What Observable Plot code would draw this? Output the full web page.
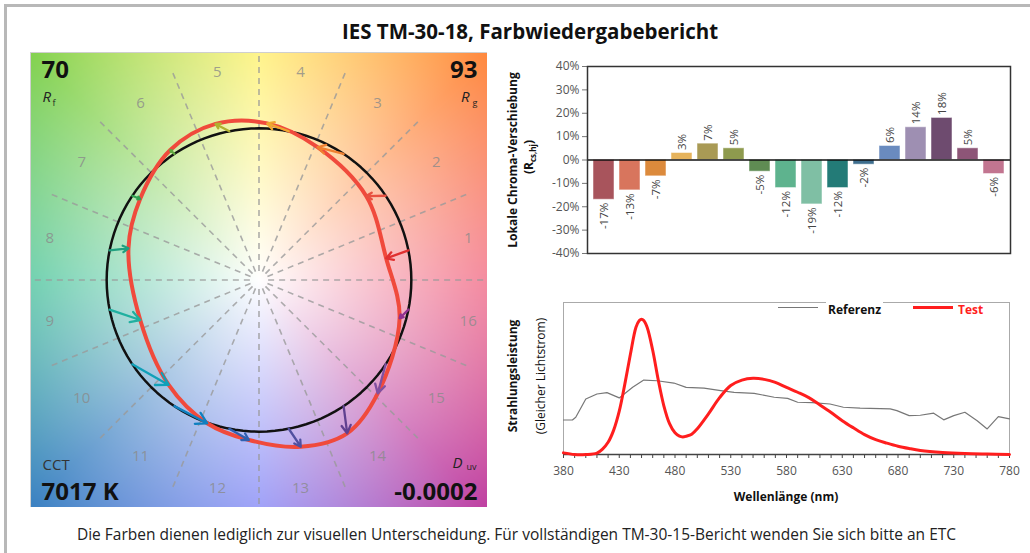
<!DOCTYPE html>
<html><head><meta charset="utf-8">
<script src="https://cdn.jsdelivr.net/npm/d3@7"></script>
<script src="https://cdn.jsdelivr.net/npm/@observablehq/plot@0.6"></script>
<style>
body{margin:0;background:#fff;font-family:"Open Sans",sans-serif;}
#wrap{position:relative;width:1030px;height:553px;overflow:hidden;background:#fff;}
.abs{position:absolute;}
#border{left:4px;top:4px;width:1100px;height:600px;border-left:3px solid #b8b8b8;border-top:3px solid #b8b8b8;}
#title{left:280px;width:500px;top:17px;text-align:center;font-weight:bold;font-size:20.5px;color:#111;}
#caption{left:0;width:1033px;top:523px;text-align:center;font-size:15.5px;color:#222;}
.vt{position:absolute;white-space:nowrap;transform:translate(-50%,-50%) rotate(-90deg);font-size:12px;color:#111;}
.b{font-weight:bold;}
.leg{position:absolute;font-size:12px;font-weight:bold;}
.legline{position:absolute;height:0;}
#left,#bars,#spec{position:absolute;}
#left{left:30px;top:52px;}
#bars{left:500px;top:55px;}
#spec{left:500px;top:290px;}
</style>
</head><body>
<div id="wrap">
  <div id="border" class="abs"></div>
  <div id="title" class="abs">IES TM-30-18, Farbwiedergabebericht</div>
  <div id="left"></div>
  <div id="bars"></div>
  <div id="spec"></div>
  <div class="vt b" style="left:512px;top:160px;">Lokale Chroma-Verschiebung</div>
  <div class="vt b" style="left:529px;top:157px;">(R<sub style="font-size:8px">cs,hj</sub>)</div>
  <div class="vt b" style="left:512px;top:376px;">Strahlungsleistung</div>
  <div class="vt" style="left:540px;top:376px;">(Gleicher Lichtstrom)</div>
  <div class="abs b" style="left:686px;width:200px;top:488px;text-align:center;font-size:12px;color:#111;">Wellenlänge (nm)</div>
  <div class="legline" style="left:778px;top:307px;width:40px;border-top:1.3px solid #777;"></div>
  <div class="leg" style="left:826px;top:301px;color:#111;background:#fff;padding:0 2px;">Referenz</div>
  <div class="legline" style="left:913px;top:306px;width:40px;border-top:3px solid #ff1e1e;"></div>
  <div class="leg" style="left:958px;top:301px;color:#ff1e1e;">Test</div>
  <div id="caption" class="abs">Die Farben dienen lediglich zur visuellen Unterscheidung. Für vollständigen TM-30-15-Bericht wenden Sie sich bitte an ETC</div>
</div>
<script>
// ---------- data ----------
const bins = [1,2,3,4,5,6,7,8,9,10,11,12,13,14,15,16];
const chromaShift = [-0.17,-0.13,-0.07,0.03,0.07,0.05,-0.05,-0.12,-0.19,-0.12,-0.02,0.06,0.14,0.18,0.05,-0.06];
// test vector graphic: relative chroma (radius) and mean hue angle (deg) per hue bin
const testChroma = [0.847,0.895,0.956,1.034,1.068,1.036,0.946,0.882,0.823,0.911,1.004,1.057,1.133,1.165,1.080,0.957];
const testHue    = [9.7,38.2,66.3,87.0,105.5,124.2,145.6,166.3,198.7,229.4,250.2,266.4,284.0,299.8,316.2,344.7];
const yTicks = [-0.4,-0.3,-0.2,-0.1,0,0.1,0.2,0.3,0.4];
const metrics = {Rf: "70", Rg: "93", CCT: "7017 K", Duv: "-0.0002"};
// spectra
const testNm  = [380,390,400,410,415,420,425,430,435,440,445,448,450,452,455,460,465,470,475,480,484,487,490,495,500,510,520,530,540,550,560,570,580,590,600,610,620,630,640,650,660,670,680,690,700,720,740,760,780];
const testSpd = [0.012,0,0,0.01,0.04,0.09,0.18,0.32,0.52,0.74,0.94,0.99,1.0,0.99,0.94,0.77,0.55,0.36,0.23,0.16,0.135,0.13,0.135,0.15,0.19,0.30,0.42,0.51,0.55,0.563,0.555,0.533,0.496,0.46,0.42,0.366,0.31,0.25,0.197,0.147,0.11,0.084,0.061,0.044,0.03,0.015,0.007,0.003,0];
const refNm  = [380,388,391,400,410,419,430,442,452,464,479,490,506,521,533,551,569,581,590,603,619,631,646,673,679,690,700,712,721,730,740,751,760,770,780];
const refSpd = [0.255,0.255,0.275,0.41,0.447,0.457,0.418,0.497,0.55,0.545,0.528,0.496,0.49,0.472,0.459,0.452,0.423,0.415,0.386,0.383,0.373,0.349,0.342,0.337,0.324,0.287,0.29,0.305,0.256,0.287,0.312,0.25,0.189,0.28,0.263];
const xTicks = [380,390,400,410,420,430,440,450,460,470,480,490,500,510,520,530,540,550,560,570,580,590,600,610,620,630,640,650,660,670,680,690,700,710,720,730,740,750,760,770,780];

// ---------- palettes ----------
const barColors = ["#a8545c","#d8755d","#dc8a3c","#e6b35c","#a99a55","#8e9a4e","#5f8c53","#5eb38e","#7fbfa4","#237b77","#3e6e8e","#6a8bbf","#9e8fb2","#6e4b6f","#8d5577","#c27590"];
const arrowColors = ["#e03030","#e85040","#f08030","#f0a830","#b0b030","#60a840","#30a050","#20a080","#20b0a0","#10a0b8","#1080c0","#3060b0","#5050a0","#604090","#8050a0","#903090"];
const wheelAngles = [0,45,90,135,180,225,270,315,360];
const wheelColors = ["#f0607c","#ff8a40","#fff060","#84d250","#3fc094","#3c82c2","#7c80f6","#c042a2","#f0607c"];

const rad = a => a * Math.PI / 180;
const center = i => rad((i + 0.5) * 22.5);
const vec = bins.map((b, i) => ({
  bin: b,
  rx: Math.cos(center(i)), ry: Math.sin(center(i)),
  tx: testChroma[i] * Math.cos(rad(testHue[i])), ty: testChroma[i] * Math.sin(rad(testHue[i])),
  color: arrowColors[i]
}));
const hueColor = d3.scaleLinear().domain(wheelAngles).range(wheelColors).interpolate(d3.interpolateRgb);
const font = {fontFamily: "'Open Sans', sans-serif"};

// ---------- left: color vector graphic ----------
const left = Plot.plot({
  width: 457, height: 455, margin: 0,
  x: {domain: [-1.5, 1.5], axis: null},
  y: {domain: [-1.5, 1.5], axis: null},
  color: {type: "identity"},
  style: font,
  marks: [
    Plot.raster({
      x1: -1.5, x2: 1.5, y1: -1.5, y2: 1.5,
      fill: (x, y) => {
        const r = Math.hypot(x, y);
        let a = Math.atan2(y, x) * 180 / Math.PI; if (a < 0) a += 360;
        const t = Math.min(1, r / 2.1);
        return d3.interpolateRgb("#ffffff", hueColor(a))(Math.pow(t, 0.95));
      },
      imageRendering: "auto"
    }),
    Plot.link(d3.range(16), {x1: k => 0.06 * Math.cos(rad(k * 22.5)), y1: k => 0.06 * Math.sin(rad(k * 22.5)),
      x2: k => 1.5 * Math.cos(rad(k * 22.5)), y2: k => 1.5 * Math.sin(rad(k * 22.5)),
      stroke: "#9a9a9a", strokeWidth: 1.6, strokeDasharray: "6,5", strokeOpacity: 0.8}),
    Plot.text(vec, {x: d => 1.4 * d.rx, y: d => 1.4 * d.ry, text: "bin", fill: "#8a8a8a", fillOpacity: 0.8, fontSize: 15}),
    Plot.line(d3.range(0, 360, 3), {x: a => Math.cos(rad(a)), y: a => Math.sin(rad(a)), curve: "linear-closed", stroke: "#111", strokeWidth: 2.5}),
    Plot.line(vec, {x: "tx", y: "ty", curve: "catmull-rom-closed", stroke: "#f04a3c", strokeWidth: 4}),
    Plot.arrow(vec, {x1: "rx", y1: "ry", x2: "tx", y2: "ty", stroke: "color", strokeWidth: 2.3, headLength: 9}),
    Plot.frame({stroke: "#cfcfcf"}),
    Plot.text([metrics.Rf], {frameAnchor: "top-left", dx: 11, dy: 8, fontSize: 24, fontWeight: "bold", fill: "#111"}),
    Plot.text(["R"], {frameAnchor: "top-left", dx: 12, dy: 39, fontSize: 15, fontStyle: "italic", fill: "#222"}),
    Plot.text(["f"], {frameAnchor: "top-left", dx: 22, dy: 47, fontSize: 9, fill: "#222"}),
    Plot.text([metrics.Rg], {frameAnchor: "top-right", dx: -10, dy: 8, fontSize: 24, fontWeight: "bold", fill: "#111"}),
    Plot.text(["R"], {frameAnchor: "top-right", dx: -18, dy: 39, fontSize: 15, fontStyle: "italic", fill: "#222"}),
    Plot.text(["g"], {frameAnchor: "top-right", dx: -10, dy: 47, fontSize: 9, fill: "#222"}),
    Plot.text(["CCT"], {frameAnchor: "bottom-left", dx: 12, dy: -38, fontSize: 15, fill: "#333"}),
    Plot.text([metrics.CCT], {frameAnchor: "bottom-left", dx: 11, dy: -8, fontSize: 24, fontWeight: "bold", fill: "#111"}),
    Plot.text(["D"], {frameAnchor: "bottom-right", dx: -25, dy: -40, fontSize: 15, fontStyle: "italic", fill: "#222"}),
    Plot.text(["uv"], {frameAnchor: "bottom-right", dx: -11, dy: -38, fontSize: 9, fill: "#222"}),
    Plot.text([metrics.Duv], {frameAnchor: "bottom-right", dx: -10, dy: -8, fontSize: 24, fontWeight: "bold", fill: "#111"})
  ]
});
document.getElementById("left").append(left);

// ---------- upper right: local chroma shift ----------
const pct = v => Math.round(v * 100) + "%";
const barData = bins.map((b, i) => ({bin: b, shift: chromaShift[i], color: barColors[i]}));
const bars = Plot.plot({
  width: 520, height: 210, marginLeft: 87, marginRight: 10, marginTop: 11, marginBottom: 12,
  x: {type: "band", domain: bins, padding: 0.2, axis: null},
  y: {domain: [-0.4, 0.4], axis: null},
  color: {type: "identity"},
  style: font,
  marks: [
    Plot.barY(barData, {x: "bin", y: "shift", fill: "color", stroke: "#ffffff", strokeOpacity: 0.5, strokeWidth: 1}),
    Plot.text(barData.filter(d => d.shift >= 0), {x: "bin", y: "shift", text: d => pct(d.shift), rotate: -90, textAnchor: "start", dy: -3, fontSize: 11.5, fill: "#444"}),
    Plot.text(barData.filter(d => d.shift < 0), {x: "bin", y: "shift", text: d => pct(d.shift), rotate: -90, textAnchor: "end", dy: 3, fontSize: 11.5, fill: "#444"}),
    Plot.ruleY([0], {stroke: "#111", strokeWidth: 1.5}),
    Plot.axisY(yTicks, {label: null, tickFormat: pct, tickSize: 5, tickPadding: 3, fontSize: 12, fill: "#555", stroke: "#777"}),
    Plot.frame({stroke: "#333", strokeWidth: 1.5})
  ]
});
document.getElementById("bars").append(bars);

// ---------- lower right: spectra ----------
const testData = testNm.map((nm, i) => ({nm, v: testSpd[i]}));
const refData = refNm.map((nm, i) => ({nm, v: refSpd[i]}));
const spec = Plot.plot({
  width: 520, height: 220, marginLeft: 63, marginRight: 11, marginTop: 12, marginBottom: 56,
  x: {domain: [380, 780], axis: null},
  y: {domain: [0, 1.123], axis: null},
  style: font,
  marks: [
    Plot.frame({stroke: "#aaa"}),
    Plot.line(refData, {x: "nm", y: "v", stroke: "#777", strokeWidth: 1.2}),
    Plot.ruleY([0], {stroke: "#444", strokeWidth: 1.5}),
    Plot.axisX(xTicks, {label: null, tickFormat: d => (d - 380) % 50 === 0 ? String(d) : "", tickSize: 4, tickPadding: 8, fontSize: 12, fill: "#555", stroke: "#444"}),
    Plot.line(testData, {x: "nm", y: "v", stroke: "#ff1e1e", strokeWidth: 3, curve: "catmull-rom"})
  ]
});
document.getElementById("spec").append(spec);
</script>
</body></html>
